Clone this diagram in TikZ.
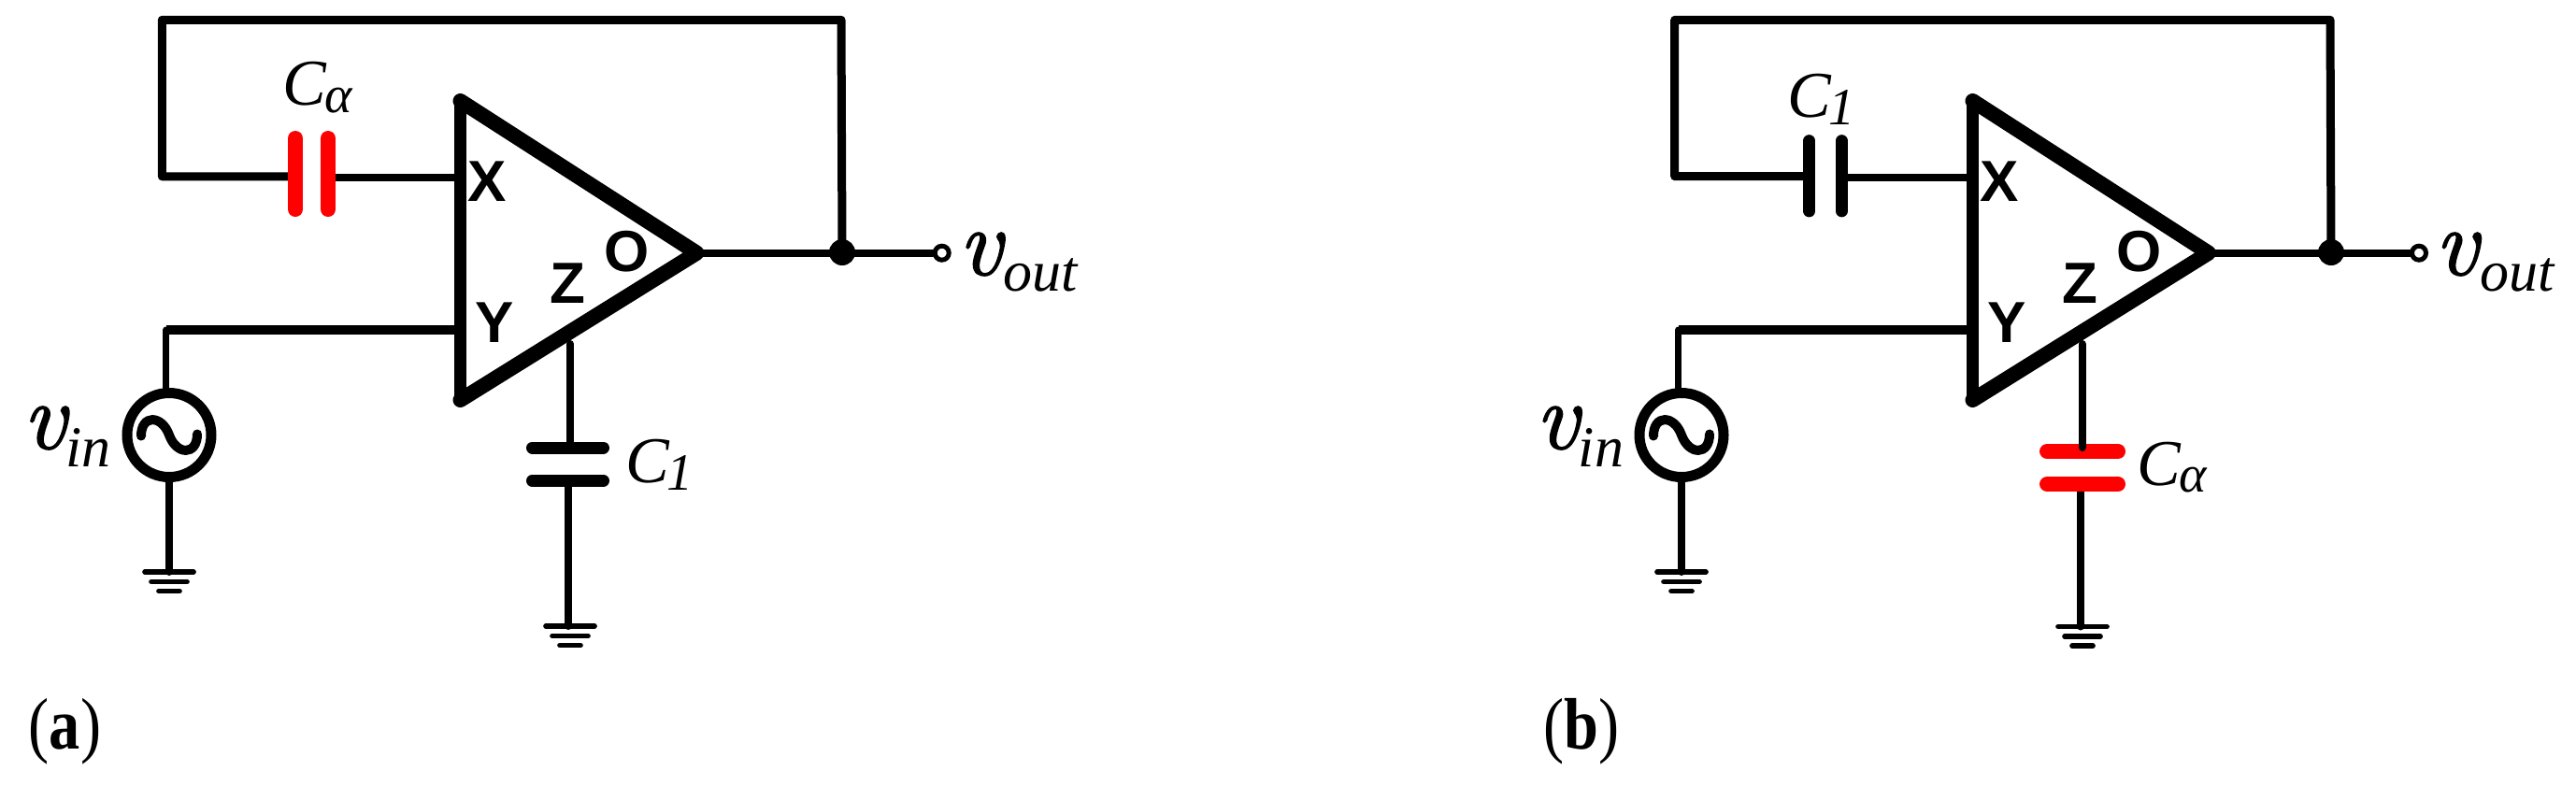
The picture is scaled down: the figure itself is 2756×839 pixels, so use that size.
\documentclass[tikz,border=0pt]{standalone}
\usepackage{fontspec}
\setmainfont{Liberation Serif}
\newfontfamily\pinfont{Liberation Sans}
\newfontfamily\vfont{Latin Modern Roman}[ItalicFeatures={FakeBold=1.6}]
\newcommand{\symv}{\vfont\itshape\fontsize{102}{102}\selectfont v}
\tikzset{
  x=1pt,y=-1pt,
  wire/.style={line width=8pt,line cap=round,line join=round},
  busw/.style={line width=9pt,line cap=round,line join=round},
  inw/.style={line width=10pt,line cap=butt},
  opedge/.style={line width=13pt,line cap=round,line join=round},
  opslant/.style={line width=16pt,line cap=round,line join=round},
  vplate/.style={line width=16pt,line cap=round},
  vplateb/.style={line width=12.7pt,line cap=round},
  hplate/.style={line width=13pt,line cap=round},
  hplater/.style={line width=16pt,line cap=round,red},
  pin/.style={inner sep=0pt,font=\pinfont\bfseries\fontsize{62}{62}\selectfont},
  big/.style={inner sep=0pt,anchor=base,font=\itshape\fontsize{70}{70}\selectfont},
  sub/.style={inner sep=0pt,anchor=base,font=\itshape\fontsize{56}{56}\selectfont},
  subv/.style={inner sep=0pt,anchor=base,font=\itshape\fontsize{62}{62}\selectfont},
  vsym/.style={inner sep=0pt,anchor=base},
  panel/.style={inner sep=0pt,anchor=base,xscale=0.85,transform shape,font=\fontsize{78}{78}\selectfont},
  source/.style={circle,draw,line width=11pt,minimum size=90pt,inner sep=0pt},
  junction/.style={circle,fill,minimum size=28pt,inner sep=0pt},
  terminal/.style={circle,draw,fill=white,line width=5pt,minimum size=15pt,inner sep=0pt},
  wave/.pic={\draw[line width=10pt,line cap=round] (-30,1) .. controls (-30,-22) and (-8,-22) .. (0,0) .. controls (8,22) and (30,22) .. (30,-1);},
  earth/.pic={
    \draw[line width=5.7pt,line cap=round] (-26,0) -- (26,0);
    \draw[line width=5.7pt,line cap=round] (-19,10.5) -- (19,10.5);
    \draw[line width=5.7pt,line cap=round] (-11,20.5) -- (11,20.5);},
}
\begin{document}
\begin{tikzpicture}
\useasboundingbox (0,0) rectangle (2756,839);
% ---------- panel (a)
\coordinate (aTL) at (173.3,21.3);
\coordinate (aTR) at (900,21.3);
\coordinate (aCL) at (173.3,188.8);
\coordinate (aX) at (492.5,189.7);
\coordinate (aY) at (492.5,353);
\coordinate (aYc) at (177.7,353);
\coordinate (aTop) at (492.5,108);
\coordinate (aBot) at (492.5,428);
\coordinate (aApex) at (745.5,270.7);
\coordinate (aZ) at (610,368);
\coordinate (aC1t) at (316,148);\coordinate (aC1m) at (316,188.8);\coordinate (aC1b) at (316,224);
\coordinate (aC2t) at (351,148);\coordinate (aC2m) at (351,189.7);\coordinate (aC2b) at (351,224);
\coordinate (aP1l) at (569.5,479);\coordinate (aP1m) at (610,479);\coordinate (aP1r) at (645.5,479);
\coordinate (aP2l) at (569.5,514.3);\coordinate (aP2m) at (608.3,514.3);\coordinate (aP2r) at (645.5,514.3);
\coordinate (aG1) at (181,612);
\coordinate (aG2) at (610,670);
\coordinate (aG2w) at (608.3,670);
\node[junction] (aJ) at (901,270) {};
\node[source] (aS) at (181,465.5) {};
\draw[busw] (aJ.center) -- (aTR) -- (aTL) -- (aCL) -- (aC1m);
\draw[wire] (aC2m) -- (aX);
\draw[inw] (aYc) -- (aY);
\draw[line width=7pt,line cap=round] (aYc) -- (aYc |- aS.north);
\draw[wire] (aS) -- (aG1);
\draw[wire] (aZ) -- (aP1m);
\draw[wire] (aP2m) -- (aG2w);
\draw[opslant] (aTop) -- (aApex) -- (aBot);
\draw[opedge] (aBot) -- (aTop);
\node[terminal] (aT) at (1007.7,270.7) {};
\draw[wire] (aApex) -- (aT);
\draw[vplate,red] (aC1t) -- (aC1b);
\draw[vplate,red] (aC2t) -- (aC2b);
\draw[hplate] (aP1l) -- (aP1r);
\draw[hplate] (aP2l) -- (aP2r);
\pic at (aS) {wave};
\pic at (aG1) {earth};
\pic at (aG2) {earth};
\node[pin] (aLX) at (521.5,194.5) {X};
\node[pin] (aLY) at (528.7,345.5) {Y};
\node[pin] (aLZ) at (607,303.5) {Z};
\node[pin] (aLO) at (670.3,269.3) {O};
\node[big] (aCa) at (325.8,112.7) {C};
\node[sub] (aCas) at (362.3,120.7) {α};
\node[big] (aC1) at (692.8,516.7) {C};
\node[sub] (aC1s) at (727.8,524) {1};
\node[vsym] (aV) at (1048.7,294) {\symv};
\node[subv] (aVo) at (1113,311.7) {out};
\node[vsym] (aVi) at (47.5,480) {\symv};
\node[subv] (aVis) at (94.7,499) {in};
\node[panel] (aPL) at (69.5,801.7) {(\textbf{a})};
% ---------- panel (b)
\coordinate (bTL) at (1791.7,21.3);
\coordinate (bTR) at (2493,21.3);
\coordinate (bCL) at (1791.7,188.7);
\coordinate (bX) at (2110.5,189.7);
\coordinate (bY) at (2110.5,353);
\coordinate (bYc) at (1795.7,353);
\coordinate (bTop) at (2110.5,108);
\coordinate (bBot) at (2110.5,428);
\coordinate (bApex) at (2363,270.7);
\coordinate (bZ) at (2227.5,368);
\coordinate (bC1t) at (1935.7,150.5);\coordinate (bC1m) at (1935.7,188.7);\coordinate (bC1b) at (1935.7,226);
\coordinate (bC2t) at (1970.3,150.5);\coordinate (bC2m) at (1970.3,189.7);\coordinate (bC2b) at (1970.3,226);
\coordinate (bP1l) at (2190,483);\coordinate (bP1m) at (2227.5,479);\coordinate (bP1r) at (2266,483);
\coordinate (bP2l) at (2190,518);\coordinate (bP2m) at (2226,518);\coordinate (bP2r) at (2266,518);
\coordinate (bG1) at (1799,612);
\coordinate (bG2) at (2228,670.5);
\coordinate (bG2w) at (2226,670.5);
\node[junction] (bJ) at (2494,270) {};
\node[source] (bS) at (1799,465.5) {};
\draw[busw] (bJ.center) -- (bTR) -- (bTL) -- (bCL) -- (bC1m);
\draw[wire] (bC2m) -- (bX);
\draw[inw] (bYc) -- (bY);
\draw[line width=7pt,line cap=round] (bYc) -- (bYc |- bS.north);
\draw[wire] (bS) -- (bG1);
\draw[wire] (bP2m) -- (bG2w);
\draw[opslant] (bTop) -- (bApex) -- (bBot);
\draw[opedge] (bBot) -- (bTop);
\node[terminal] (bT) at (2588,270.7) {};
\draw[wire] (bApex) -- (bT);
\draw[vplateb] (bC1t) -- (bC1b);
\draw[vplateb] (bC2t) -- (bC2b);
\draw[hplater] (bP1l) -- (bP1r);
\draw[hplater] (bP2l) -- (bP2r);
\draw[wire] (bZ) -- (bP1m);
\pic at (bS) {wave};
\pic at (bG1) {earth};
\pic at (bG2) {earth};
\node[pin] (bLX) at (2139.5,194.5) {X};
\node[pin] (bLY) at (2146.7,345.5) {Y};
\node[pin] (bLZ) at (2225,303.5) {Z};
\node[pin] (bLO) at (2288.3,269.3) {O};
\node[big] (bC1) at (1935.8,125.3) {C};
\node[sub] (bC1s) at (1970.8,133.3) {1};
\node[big] (bCa) at (2310,519) {C};
\node[sub] (bCas) at (2346,526.7) {α};
\node[vsym] (bV) at (2628,294) {\symv};
\node[subv] (bVo) at (2693,311.7) {out};
\node[vsym] (bVi) at (1665.8,480) {\symv};
\node[subv] (bVis) at (1713,499) {in};
\node[panel] (bPL) at (1691.7,801.7) {(\textbf{b})};
\end{tikzpicture}
\end{document}
